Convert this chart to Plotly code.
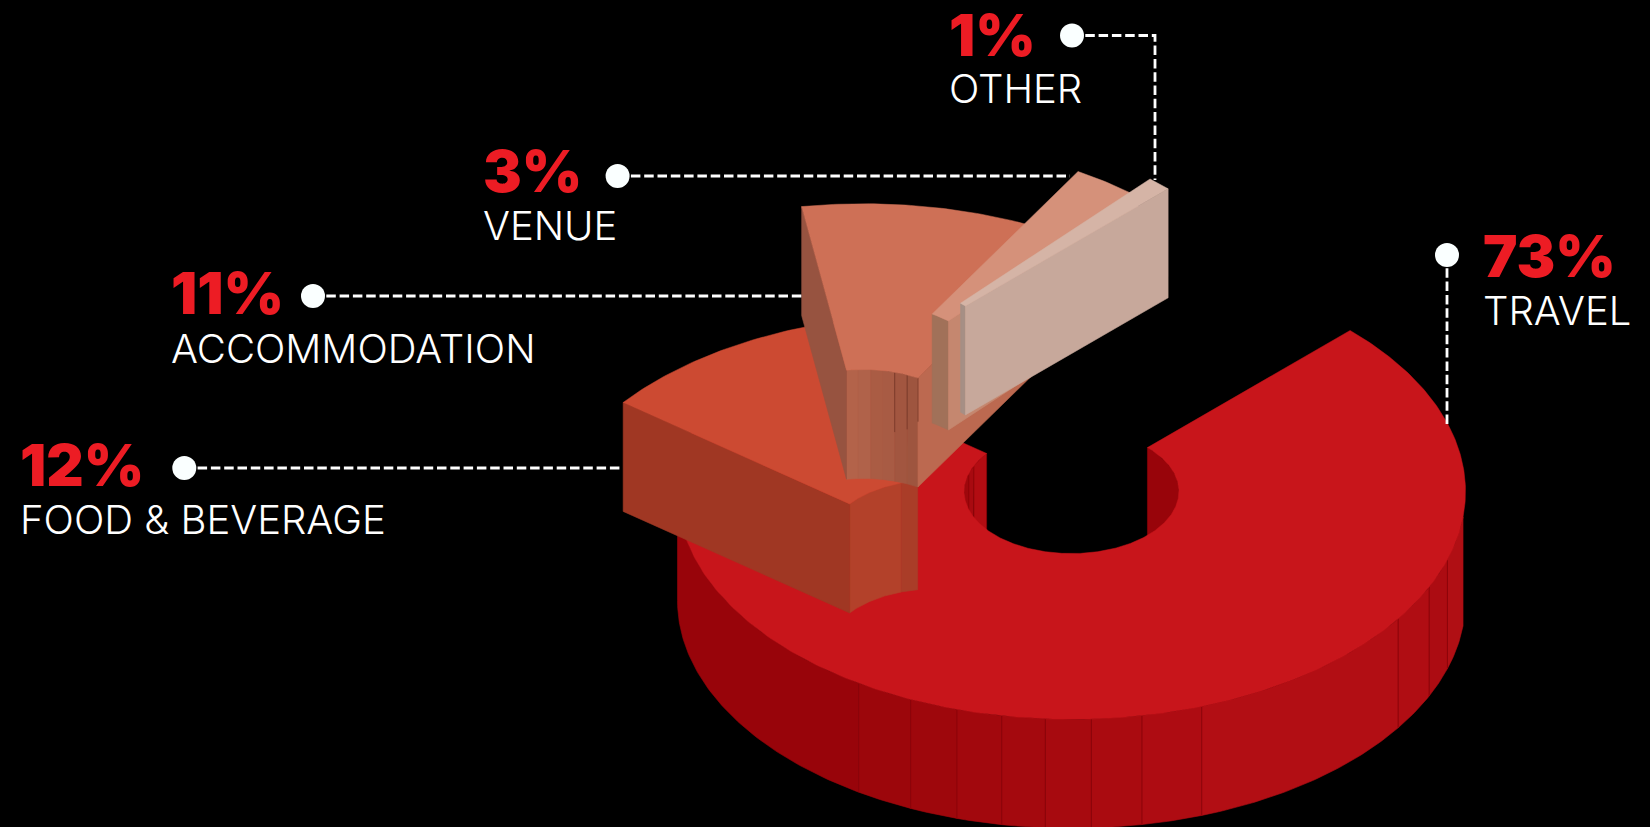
import numpy as np
import plotly.graph_objects as go

# Spending breakdown
CATEGORIES = ["TRAVEL", "FOOD & BEVERAGE", "ACCOMMODATION", "VENUE", "OTHER"]
SHARES = [73, 12, 11, 3, 1]

# Ring geometry on the 1650x827 canvas
CX, CY = 1071.5, 491.5
R_OUT, R_IN = 394.0, 107.4
SQUASH = 0.578
DEPTH = 109.0
START_ANGLE = 45.0

# Shift of each slice away from its place in the ring
SHIFTS = [(0, 0), (-137, 50.5), (-208.2, -60), (-194, -124), (-182, -141.7)]

RED = "#ED1C24"
TOP = ["#C8151B", "#CC4A32", "#CE7056", "#D5917A", "#D5B4A6"]
CUT_NEAR = [None, "#A03723", "#975340", None, None]   # face on the counter-clockwise edge
CUT_FAR = [None, None, "#BC6950", "#C5876F", "#C7A89B"]  # face on the clockwise edge

# Facet breaks (degrees) and shades along the curved walls
OUTER_BREAKS = [-180, -122.7, -114.1, -106.9, -100.2, -93.8, -87.1, -79.7, -70.7, -34, -24.8, -17.4, -6.4]
OUTER_SHADES = ["#98040A", "#9C060B", "#9E070C", "#A2080D", "#A4090E", "#A70A0F",
                "#AA0B10", "#AE0C12", "#B20E14", "#B00D13", "#AC0C12", "#B00F14"]
INNER_WALLS = [
    [((45, 0), "#98040A"), ((180, 162.7), "#9E070C"),
     ((162.7, 155.2), "#A80A10"), ((155.2, None), "#B20C12")],
    [((None, 108), "#B3412A"), ((108, None), "#AA3D28")],
    [((None, 92.8), "#B3634A"), ((92.8, 86), "#B0624A"), ((86, 79.7), "#AA5C44"),
     ((79.7, 73), "#A85B44"), ((73, 65.9), "#A25640"), ((65.9, None), "#9E553F")],
    [((None, None), "#A17159")],
    [((None, None), "#A68F85")],
]

# Label placement: text left edge, value cap centre, name cap centre
LABEL_X = [1482, 19, 170, 482, 948]
VALUE_Y = [256, 465, 293, 171, 35]
NAME_Y = [310, 519, 348, 225, 88.5]
# Leader paths, from the dot to the slice
LEADER_X = [[1447, 1447], [184.3, 622], [313, 802], [617.6, 1070], [1072, 1155, 1155]]
LEADER_Y = [[255, 425], [468, 468], [296, 296], [176, 176], [35.5, 35.5, 180]]


def point(theta, radius, shift=(0, 0), drop=0.0):
    t = np.radians(theta)
    return (CX + radius * np.cos(t) + shift[0],
            CY - radius * SQUASH * np.sin(t) + shift[1] + drop)


def arc(a, b, radius, shift=(0, 0), drop=0.0):
    n = max(2, int(abs(b - a) * 1.5) + 2)
    return point(np.linspace(a, b, n), radius, shift, drop)


fig = go.Figure()


def polygon(xs, ys, fill, edge=None, width=0.6):
    fig.add_trace(go.Scatter(x=list(xs), y=list(ys), mode="lines", fill="toself", fillcolor=fill,
                             line=dict(color=edge or fill, width=width), hoverinfo="skip", showlegend=False))


def wall(a, b, radius, shift, fill, edge=None):
    x1, y1 = arc(a, b, radius, shift)
    x2, y2 = arc(b, a, radius, shift, DEPTH)
    polygon(np.r_[x1, x2, x1[0]], np.r_[y1, y2, y1[0]], fill, edge)


def cut(theta, shift, fill):
    pts = [point(theta, R_OUT, shift), point(theta, R_IN, shift),
           point(theta, R_IN, shift, DEPTH), point(theta, R_OUT, shift, DEPTH), point(theta, R_OUT, shift)]
    polygon([p[0] for p in pts], [p[1] for p in pts], fill)


def seam(theta, radius, shift, color, frac=1.0):
    x0, y0 = point(theta, radius, shift)
    x1, y1 = point(theta, radius, shift, DEPTH * frac)
    fig.add_trace(go.Scatter(x=[x0, x1], y=[y0, y1], mode="lines", line=dict(color=color, width=0.9),
                             hoverinfo="skip", showlegend=False))


# Slice angles run clockwise from the start angle; all but the first are kept in 0..360
spans = []
angle = START_ANGLE
for idx, share in enumerate(SHARES):
    end = angle - share * 3.6
    spans.append((angle, end))
    angle = end + 360 if idx == 0 else end

for i, (a0, a1) in enumerate(spans):
    shift = SHIFTS[i]
    if i == 0:
        for k in range(len(OUTER_SHADES)):
            wall(OUTER_BREAKS[k], OUTER_BREAKS[k + 1], R_OUT, shift, OUTER_SHADES[k])
        for brk in OUTER_BREAKS[1:-1]:
            seam(brk, R_OUT, shift, "#8A040A")
        for (b0, b1), shade in INNER_WALLS[0]:
            wall(b0, a1 + 360 if b1 is None else b1, R_IN, shift, shade, "#8E0409")
    else:
        for (b0, b1), shade in INNER_WALLS[i]:
            wall(a0 if b0 is None else b0, a1 if b1 is None else b1, R_IN, shift, shade)
        if CUT_NEAR[i]:
            cut(a0, shift, CUT_NEAR[i])
        if CUT_FAR[i]:
            cut(a1, shift, CUT_FAR[i])
        if i == 2:
            seam(73, R_IN, shift, "#7A3A2A", 0.55)
            seam(65.9, R_IN, shift, "#7A3A2A", 0.5)
            seam(a1, R_IN, shift, "#7A3A2A", 0.4)
    # top surface
    ox, oy = arc(a0, a1, R_OUT, shift)
    ix, iy = arc(a1, a0, R_IN, shift)
    polygon(np.r_[ox, ix, ox[0]], np.r_[oy, iy, oy[0]], TOP[i], None, 0.5)

# Leaders and their dots
for i in range(len(SHARES)):
    fig.add_trace(go.Scatter(x=LEADER_X[i], y=LEADER_Y[i], mode="lines",
                             line=dict(color="white", width=2.8, dash="9.5px,3.8px"),
                             hoverinfo="skip", showlegend=False))
    fig.add_trace(go.Scatter(x=[LEADER_X[i][0]], y=[LEADER_Y[i][0]], mode="markers",
                             marker=dict(color="#FAFFFF", size=24, line=dict(width=0)),
                             hoverinfo="skip", showlegend=False))

# Value and category labels
for i, name in enumerate(CATEGORIES):
    fig.add_annotation(x=LABEL_X[i], y=VALUE_Y[i], text=f"{SHARES[i]}%", showarrow=False,
                       xanchor="left", yanchor="middle", borderpad=0,
                       font=dict(family="Inter", size=58, color=RED, weight=900))
    fig.add_annotation(x=LABEL_X[i], y=NAME_Y[i], text=name, showarrow=False,
                       xanchor="left", yanchor="middle", borderpad=0,
                       font=dict(family="Inter", size=40, color="white", weight=300))

fig.update_layout(
    width=1650, height=827, margin=dict(l=0, r=0, t=0, b=0),
    paper_bgcolor="black", plot_bgcolor="black", showlegend=False,
    xaxis=dict(range=[0, 1650], visible=False, fixedrange=True),
    yaxis=dict(range=[827, 0], visible=False, fixedrange=True),
)

fig.write_html("out.html")
